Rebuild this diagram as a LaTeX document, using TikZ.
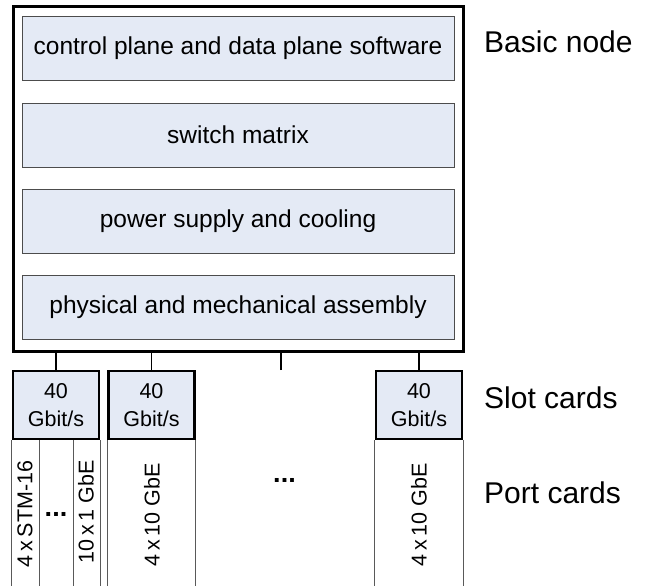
\documentclass[tikz,border=0pt]{standalone}
\usepackage{fontspec}
\setmainfont{Liberation Sans}
\usetikzlibrary{calc}
\definecolor{cardfill}{HTML}{E4EAF5}
\tikzset{
  layer/.style={draw=black!70, line width=0.9pt, fill=cardfill, minimum width=432pt, minimum height=64pt, inner sep=0pt, font=\fontsize{24.5}{28}\selectfont},
  slotcard/.style={draw, line width=2.6pt, fill=cardfill, minimum width=86pt, minimum height=68pt, inner sep=0pt, align=center, font=\fontsize{21.5}{28}\selectfont},
  porttext/.style={rotate=90, inner sep=0pt, font=\fontsize{21.5}{24}\selectfont},
  sidelabel/.style={anchor=west, inner sep=0pt, font=\fontsize{30}{34}\selectfont},
  moredots/.style={anchor=base, inner sep=0pt, font=\fontsize{27}{30}\selectfont\bfseries},
  wire/.style={line width=1.5pt},
  portline/.style={draw=black!65, line width=0.9pt}
}
\begin{document}
\begin{tikzpicture}[x=1pt,y=-1pt]
\useasboundingbox (0,0) rectangle (649,586);
% basic node with its layers
\node[draw, line width=3pt, minimum width=450pt, minimum height=344pt, inner sep=0pt] (basic) at (238,179) {};
\node[layer] (software) at (238,48) {control plane and data plane software};
\node[layer] (matrix) at (238,135) {switch matrix};
\node[layer] (power) at (238,221) {power supply and cooling};
\node[layer] (assembly) at (238,307) {physical and mechanical assembly};
% slot cards
\node[slotcard] (slotA) at (56,405) {40\\Gbit/s};
\node[slotcard] (slotB) at (151.5,405) {40\\Gbit/s};
\node[slotcard] (slotC) at (419,405) {40\\Gbit/s};
\coordinate (stub) at (281,370);
\draw[wire] (slotA.north) -- (slotA.north |- basic.south);
\draw[wire] (slotB.north) -- (slotB.north |- basic.south);
\draw[wire] (slotC.north) -- (slotC.north |- basic.south);
\draw[wire] (stub) -- (stub |- basic.south);
% port cards
\coordinate (bottom) at (0,586);
\foreach \card in {slotA,slotB,slotC}{
  \draw[portline] (\card.south west) -- (\card.south west |- bottom);
  \draw[portline] (\card.south east) -- (\card.south east |- bottom);
}
\coordinate (sepA) at (39,440);
\coordinate (sepB) at (73,440);
\draw[portline] (sepA) -- (sepA |- bottom);
\draw[portline] (sepB) -- (sepB |- bottom);
\node[porttext] (stm) at (25,514) {4\,x\,STM-16};
\node[porttext] (gbeA) at (86,512) {10\,x\,1 GbE};
\node[porttext] (gbeB) at (152,515) {4\,x\,10 GbE};
\node[porttext] (gbeC) at (419,515) {4\,x\,10 GbE};
\node[moredots] (dotsA) at (56,516) {...};
\node[moredots] (dotsB) at (284.5,482) {...};
% side labels
\node[sidelabel] (lbasic) at (484,42) {Basic node};
\node[sidelabel] (lslot) at (484,398) {Slot cards};
\node[sidelabel] (lport) at (484,493) {Port cards};
\end{tikzpicture}
\end{document}
